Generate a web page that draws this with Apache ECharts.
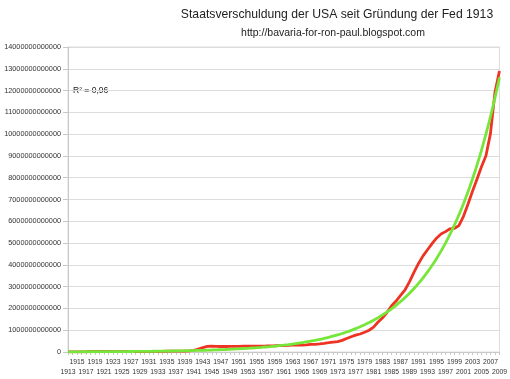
<!DOCTYPE html>
<html>
<head>
<meta charset="utf-8">
<script src="https://cdn.jsdelivr.net/npm/echarts@6/dist/echarts.min.js"></script>
<style>
html,body{margin:0;padding:0;background:#fff;}
#chart{width:510px;height:379px;}
</style>
</head>
<body>
<div id="chart"></div>
<script>
// Categories (years)
var years = ['1913','1914','1915','1916','1917','1918','1919','1920','1921','1922','1923','1924','1925','1926','1927','1928','1929','1930','1931','1932','1933','1934','1935','1936','1937','1938','1939','1940','1941','1942','1943','1944','1945','1946','1947','1948','1949','1950','1951','1952','1953','1954','1955','1956','1957','1958','1959','1960','1961','1962','1963','1964','1965','1966','1967','1968','1969','1970','1971','1972','1973','1974','1975','1976','1977','1978','1979','1980','1981','1982','1983','1984','1985','1986','1987','1988','1989','1990','1991','1992','1993','1994','1995','1996','1997','1998','1999','2000','2001','2002','2003','2004','2005','2006','2007','2008','2009'];

// National debt, in trillions of USD
var debtTrillions = [0.003,0.003,0.003,0.006,0.012,0.025,0.024,0.024,0.023,0.022,0.021,0.021,0.020,0.019,0.018,0.017,0.016,0.017,0.019,0.023,0.027,0.029,0.034,0.036,0.037,0.040,0.043,0.049,0.072,0.137,0.201,0.259,0.269,0.258,0.252,0.253,0.257,0.255,0.259,0.266,0.271,0.274,0.273,0.271,0.276,0.285,0.286,0.289,0.298,0.306,0.312,0.317,0.320,0.326,0.348,0.354,0.371,0.398,0.427,0.458,0.475,0.533,0.620,0.699,0.772,0.827,0.908,0.998,1.142,1.377,1.572,1.823,2.125,2.340,2.602,2.857,3.233,3.665,4.065,4.411,4.693,4.974,5.225,5.413,5.526,5.656,5.674,5.807,6.228,6.783,7.379,7.933,8.507,9.008,10.025,11.910,12.900];

// Exponential trend line, in trillions
var trendTrillions = [0.008,0.008,0.009,0.010,0.011,0.012,0.012,0.013,0.015,0.016,0.017,0.018,0.020,0.021,0.023,0.025,0.027,0.029,0.031,0.034,0.036,0.039,0.042,0.046,0.049,0.053,0.058,0.062,0.067,0.073,0.078,0.085,0.091,0.099,0.107,0.115,0.124,0.134,0.145,0.157,0.169,0.183,0.197,0.213,0.230,0.248,0.268,0.290,0.313,0.338,0.365,0.394,0.426,0.460,0.497,0.536,0.579,0.626,0.676,0.730,0.788,0.851,0.919,0.993,1.072,1.158,1.251,1.351,1.459,1.576,1.702,1.838,1.985,2.144,2.316,2.501,2.701,2.918,3.151,3.403,3.676,3.970,4.288,4.631,5.001,5.402,5.834,6.301,6.805,7.350,7.938,8.574,9.260,10.001,10.802,11.666,12.600];

var TRILLION = 1e12;
var debt = debtTrillions.map(function (v) { return v * TRILLION; });
var trend = trendTrillions.map(function (v) { return v * TRILLION; });

var titleText = 'Staatsverschuldung der USA seit Gründung der Fed 1913';
var subtitleText = 'http://bavaria-for-ron-paul.blogspot.com';
var r2Text = 'R² = 0,96';

var FONT = 'Liberation Sans, Arial, sans-serif';
var labelCommon = {fontSize: 6.8, color: '#333', hideOverlap: false};

var chart = echarts.init(document.getElementById('chart'), null, {renderer: 'canvas'});
chart.setOption({
  backgroundColor: '#ffffff',
  animation: false,
  textStyle: {fontFamily: FONT},
  title: [
    {text: titleText, left: 332, top: 4, textAlign: 'center',
     textStyle: {fontSize: 12.2, fontWeight: 'normal', color: '#222', fontFamily: FONT}},
    {text: subtitleText, left: 328, top: 23, textAlign: 'center',
     textStyle: {fontSize: 10.5, fontWeight: 'normal', color: '#222', fontFamily: FONT}}
  ],
  graphic: [
    {type: 'text', left: 73, top: 86, style: {text: r2Text, fontSize: 8.5, fill: '#222', fontFamily: FONT}}
  ],
  grid: {left: 68, right: 7, top: 47, bottom: 27, show: true, borderColor: '#dcdcdc', borderWidth: 1},
  xAxis: [
    {
      type: 'category', data: years, boundaryGap: false, position: 'bottom',
      axisLine: {lineStyle: {color: '#c8c8c8'}},
      axisTick: {show: true, interval: 0, length: 3, lineStyle: {color: '#c8c8c8'}},
      axisLabel: Object.assign({}, labelCommon, {
        margin: 7,
        interval: function (idx) { return idx % 4 === 2; }
      }),
      splitLine: {show: false}
    },
    {
      type: 'category', data: years, boundaryGap: false, position: 'bottom',
      axisLine: {show: false}, axisTick: {show: false},
      axisLabel: Object.assign({}, labelCommon, {
        margin: 17, showMinLabel: true, showMaxLabel: true,
        interval: function (idx) { return idx % 4 === 0; }
      }),
      splitLine: {show: false}
    }
  ],
  yAxis: {
    type: 'value',
    min: 0, max: 14 * TRILLION, interval: TRILLION,
    axisLine: {show: true, lineStyle: {color: '#c8c8c8'}},
    axisTick: {show: true, length: 5, lineStyle: {color: '#c8c8c8'}},
    axisLabel: {fontSize: 7.3, color: '#333', margin: 7, formatter: function (v) { return String(Math.round(v)); }},
    splitLine: {lineStyle: {color: '#dcdcdc', width: 1}}
  },
  series: [
    {type: 'line', name: 'Staatsverschuldung', xAxisIndex: 0, data: debt, showSymbol: false, symbol: 'none',
     lineStyle: {color: '#ee3322', width: 2.8}, itemStyle: {color: '#ee3322'}},
    {type: 'line', name: 'Trend', xAxisIndex: 0, data: trend, showSymbol: false, symbol: 'none', smooth: true,
     lineStyle: {color: '#77e63a', width: 2.8}, itemStyle: {color: '#77e63a'}}
  ]
});
</script>
</body>
</html>
